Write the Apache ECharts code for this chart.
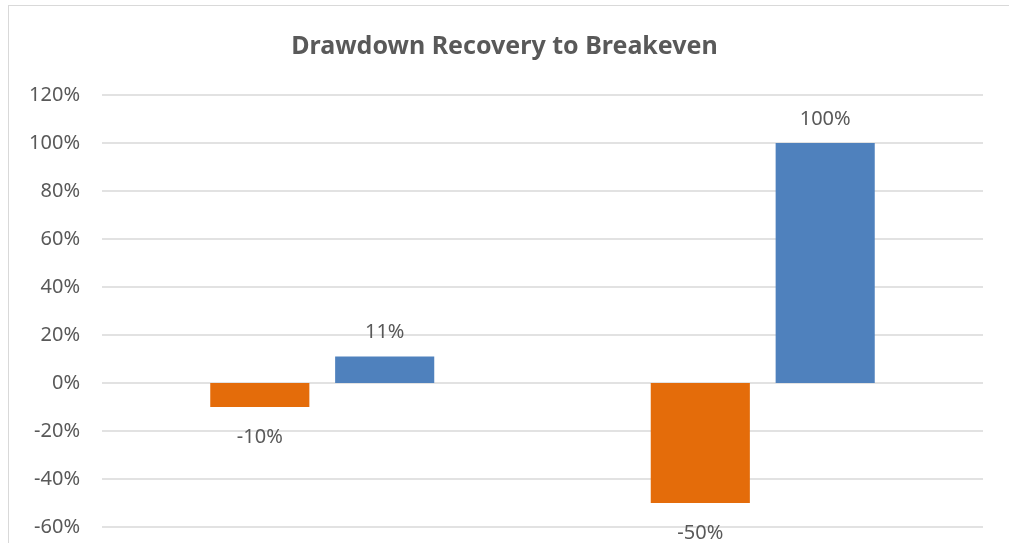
<!DOCTYPE html>
<html>
<head>
<meta charset="utf-8">
<script src="https://cdn.jsdelivr.net/npm/echarts@6/dist/echarts.min.js"></script>
<style>
  html, body { margin: 0; padding: 0; background: #fff; }
  #frame {
    position: absolute; left: 8px; top: 5px; width: 1020px; height: 560px;
    border: 1px solid #d9d9d9;
  }
  #myChart { position: absolute; left: 0; top: 0; width: 1009px; height: 543px; }
</style>
</head>
<body>
<div id="frame"></div>
<div id="myChart"></div>
<script>
const categories = ['-10% drawdown', '-50% drawdown']
const drawdown = [-10, -50]
const recovery = [11, 100]
const yTicks = { min: -60, max: 120, interval: 20 }

const labelFont = { fontFamily: 'Noto Sans', fontSize: 20, color: '#595959' }

let myChart = echarts.init(document.getElementById('myChart'))
myChart.setOption({
  animation: false,
  title: {
    text: 'Drawdown Recovery to Breakeven',
    left: 'center',
    top: 29,
    textStyle: { fontFamily: 'Noto Sans', fontSize: 25, fontWeight: 'bold', color: '#595959' }
  },
  grid: { left: 102, right: 26, top: 95, bottom: 16 },
  xAxis: {
    type: 'category',
    data: categories,
    axisLine: { show: false },
    axisTick: { show: false },
    axisLabel: { show: false }
  },
  yAxis: {
    type: 'value',
    min: yTicks.min,
    max: yTicks.max,
    interval: yTicks.interval,
    axisLabel: {
      formatter: '{value}%',
      margin: 22,
      ...labelFont
    },
    splitLine: { lineStyle: { color: '#d9d9d9', width: 1.5 } }
  },
  series: [
    {
      name: 'Drawdown',
      type: 'bar',
      data: drawdown,
      barWidth: '22.5%',
      barGap: '26%',
      itemStyle: { color: '#e46c0a' },
      label: { show: true, position: 'bottom', distance: 20, formatter: '{c}%', ...labelFont }
    },
    {
      name: 'Recovery',
      type: 'bar',
      data: recovery,
      barWidth: '22.5%',
      itemStyle: { color: '#4f81bd' },
      label: { show: true, position: 'top', distance: 14, formatter: '{c}%', ...labelFont }
    }
  ]
})
</script>
</body>
</html>
